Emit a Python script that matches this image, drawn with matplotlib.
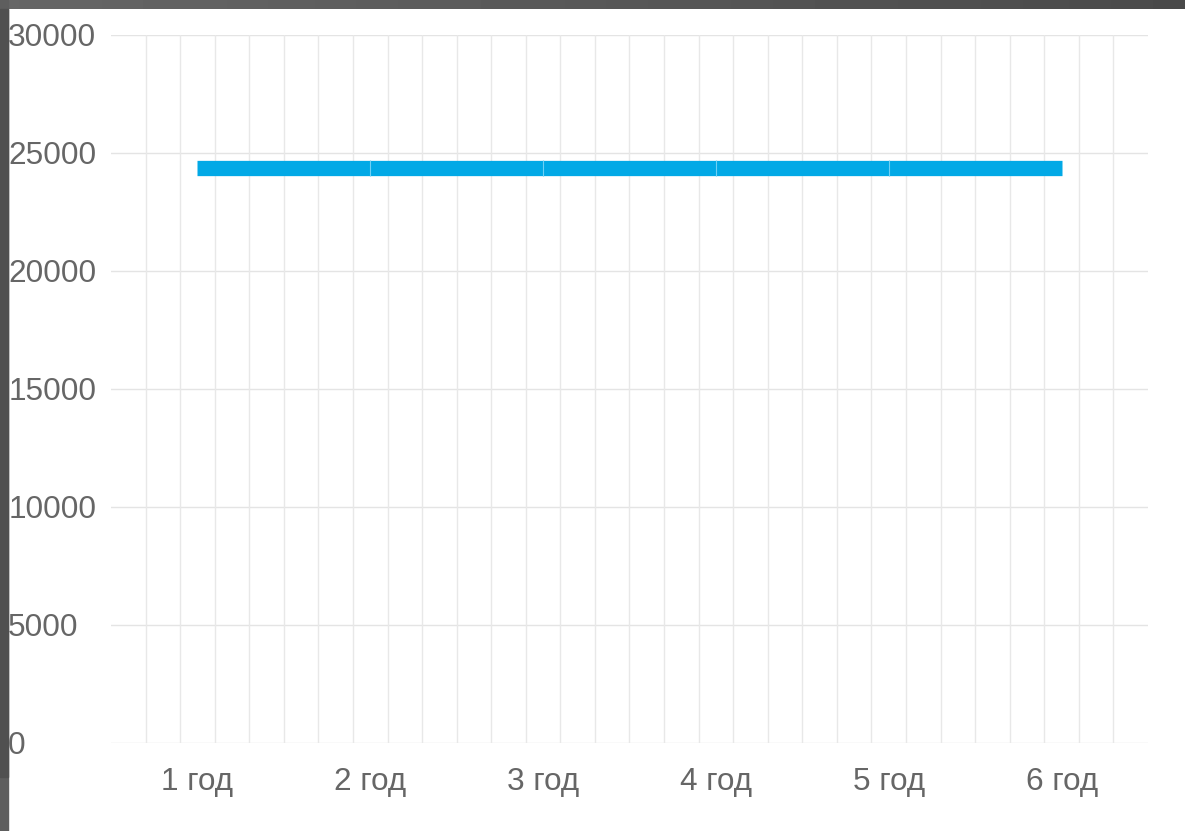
import numpy as np
import matplotlib.pyplot as plt
from matplotlib.patches import Rectangle

# Datos del gráfico
years = [1, 2, 3, 4, 5, 6]
year_labels = ["1 год", "2 год", "3 год", "4 год", "5 год", "6 год"]
values = [24350, 24350, 24350, 24350, 24350, 24350]
y_ticks = [0, 5000, 10000, 15000, 20000, 25000, 30000]

plt.rcParams['font.family'] = ['Liberation Sans', 'DejaVu Sans']

fig = plt.figure(figsize=(11.85, 8.31), dpi=100)
fig.patch.set_facecolor('white')

# marco oscuro de la captura (arriba con degradado, e izquierda)
top = fig.add_axes([0, 1 - 9 / 831, 1, 9 / 831])
top.imshow(np.linspace(0.4, 0.29, 256).reshape(1, -1), cmap='gray', vmin=0, vmax=1,
           aspect='auto', extent=(0, 1, 0, 1))
top.set_axis_off()
fig.patches.append(Rectangle((0, 0), 8 / 1185, 1, transform=fig.transFigure,
                             color='#5e5e5e', zorder=0))
fig.patches.append(Rectangle((0, 1 - 777 / 831), 8 / 1185, 777 / 831 - 9 / 831,
                             transform=fig.transFigure, color='#505050', zorder=0))

ax = fig.add_axes([111 / 1185, 1 - 743 / 831, (1148 - 111) / 1185, (743 - 35) / 831])
ax.set_facecolor('white')

ax.set_xlim(0.5, 6.5)
ax.set_ylim(0, 30000)

# línea gruesa por tramos
color = '#02a9e6'
for i in range(len(years) - 1):
    ax.plot(years[i:i + 2], values[i:i + 2], color=color, linewidth=11,
            solid_capstyle='butt', zorder=3)
ax.plot(years[1:-1], values[1:-1], linestyle='none', marker='|', markersize=11,
        markeredgewidth=0.8, color='#6fd0f5', zorder=4)

# rejilla
ax.set_yticks(y_ticks)
ax.set_xticks(years)
ax.set_xticklabels(year_labels)
ax.set_xticks(np.arange(0.7, 6.31, 0.2), minor=True)
ax.grid(False)
for yv in y_ticks:
    ax.axhline(yv, color='#e4e4e4', linewidth=1, zorder=1)
ax.grid(True, which='minor', axis='x', color='#e8e8e8', linewidth=1, zorder=1)

for s in ax.spines.values():
    s.set_visible(False)
ax.tick_params(axis='both', which='both', length=0, labelsize=22.7, labelcolor='#666666')
ax.tick_params(axis='x', pad=17)
ax.tick_params(axis='y', pad=74)
for lbl in ax.get_yticklabels():
    lbl.set_horizontalalignment('left')

fig.savefig('out.png', dpi=100, facecolor='white')
